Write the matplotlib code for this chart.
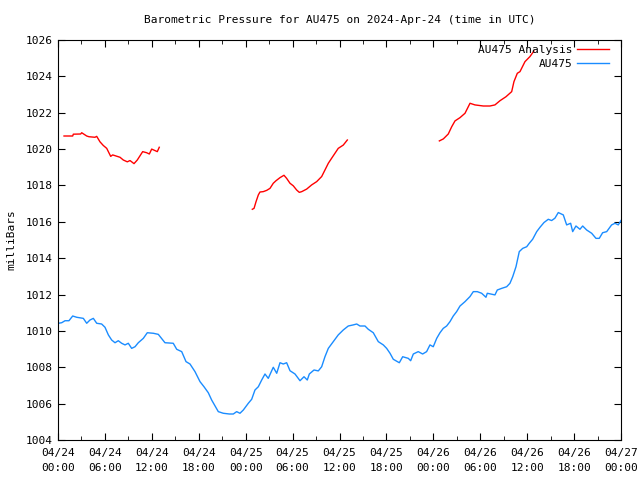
import numpy as np
import pandas as pd
import matplotlib
matplotlib.use("Agg")
import matplotlib.pyplot as plt
import matplotlib.dates as mdates

start = pd.Timestamp("2024-04-24 00:00")

# hours since 04/24 00:00 UTC, pressure in mb
obs_hours = [0.04, 0.47, 0.9, 1.4, 1.88, 2.39, 3.24, 3.67, 4.09, 4.52, 4.95, 5.58, 6.01, 6.44,
             6.86, 7.29, 7.71, 8.14, 8.57, 8.99, 9.42, 9.85, 10.27, 10.91, 11.42, 12.19, 12.83,
             13.68, 14.74, 15.18, 15.82, 16.37, 16.88, 17.52, 18.16, 18.67, 19.22, 19.65, 20.08,
             20.5, 21.14, 21.91, 22.42, 22.85, 23.27, 23.7, 24.34, 24.77, 25.19, 25.62, 26.05,
             26.47, 26.89, 27.53, 27.97, 28.39, 28.81, 29.24, 29.67, 30.31, 30.95, 31.46, 31.88,
             32.14, 32.74, 33.29, 33.72, 34.14, 34.57, 35.2, 35.84, 36.48, 37.12, 37.76, 38.2,
             38.62, 39.26, 39.68, 40.32, 40.96, 41.6, 42.03, 42.46, 42.88, 43.65, 44.08, 44.8,
             45.1, 45.44, 46.07, 46.63, 47.14, 47.57, 47.99, 48.43, 48.85, 49.27, 49.7, 50.13,
             50.55, 50.98, 51.41, 52.05, 52.69, 53.11, 53.62, 54.18, 54.73, 54.9, 55.88, 56.18,
             56.74, 57.38, 57.8, 58.15, 58.57, 58.99, 59.43, 59.94, 60.27, 60.7, 61.22, 61.64,
             62.15, 62.7, 63.13, 63.55, 63.98, 64.62, 65.05, 65.56, 65.82, 66.24, 66.75, 67.1,
             67.61, 68.25, 68.8, 69.22, 69.65, 70.17, 70.8, 71.23, 71.65, 72.0]
obs_mb = [1010.42, 1010.45, 1010.56, 1010.56, 1010.82, 1010.75, 1010.69, 1010.42, 1010.6,
          1010.69, 1010.42, 1010.38, 1010.2, 1009.78, 1009.5, 1009.35, 1009.46, 1009.32,
          1009.23, 1009.32, 1009.04, 1009.13, 1009.35, 1009.59, 1009.9, 1009.87, 1009.81,
          1009.35, 1009.32, 1008.99, 1008.86, 1008.31, 1008.18, 1007.76, 1007.21, 1006.93,
          1006.6, 1006.2, 1005.87, 1005.56, 1005.47, 1005.43, 1005.43, 1005.56, 1005.47,
          1005.65, 1006.02, 1006.24, 1006.75, 1006.93, 1007.3, 1007.63, 1007.39, 1008.0,
          1007.67, 1008.25, 1008.18, 1008.25, 1007.81, 1007.63, 1007.26, 1007.48, 1007.3,
          1007.63, 1007.85, 1007.8, 1008.03, 1008.58, 1009.04, 1009.41, 1009.78, 1010.05,
          1010.27, 1010.33, 1010.38, 1010.27, 1010.27, 1010.09, 1009.9, 1009.41, 1009.23,
          1009.04, 1008.77, 1008.44, 1008.25, 1008.58, 1008.49, 1008.36, 1008.73, 1008.86,
          1008.73, 1008.86, 1009.23, 1009.13, 1009.59, 1009.9, 1010.14, 1010.27, 1010.51,
          1010.82, 1011.06, 1011.37, 1011.61, 1011.89, 1012.16, 1012.16, 1012.07, 1011.85,
          1012.07, 1011.98, 1012.25, 1012.34, 1012.43, 1012.62, 1012.98, 1013.53, 1014.36,
          1014.54, 1014.63, 1014.82, 1015.04, 1015.46, 1015.7, 1015.96, 1016.14, 1016.07,
          1016.2, 1016.51, 1016.38, 1015.83, 1015.92, 1015.46, 1015.77, 1015.59, 1015.77,
          1015.55, 1015.37, 1015.09, 1015.09, 1015.4, 1015.46, 1015.83, 1015.92, 1015.83,
          1016.07]

ana1_hours = [0.77, 1.88, 1.96, 2.9, 3.03, 3.67, 3.96, 4.73, 4.95, 5.37, 5.79, 6.23, 6.74, 6.99,
              7.93, 8.35, 8.86, 9.21, 9.72, 10.14, 10.83, 11.34, 11.68, 11.98, 12.7, 12.95]
ana1_mb = [1020.72, 1020.72, 1020.82, 1020.83, 1020.9, 1020.72, 1020.68, 1020.65, 1020.7,
           1020.4, 1020.2, 1020.04, 1019.6, 1019.68, 1019.55, 1019.4, 1019.3, 1019.37, 1019.2,
           1019.4, 1019.86, 1019.8, 1019.73, 1020.0, 1019.86, 1020.1]
ana2_hours = [24.85, 25.07, 25.32, 25.62, 25.83, 26.25, 26.69, 27.11, 27.53, 27.88, 28.39, 28.9,
              29.24, 29.67, 30.09, 30.52, 30.86, 31.17, 31.8, 32.44, 33.08, 33.72, 34.14, 34.57,
              35.0, 35.42, 35.84, 36.48, 37.0]
ana2_mb = [1016.69, 1016.74, 1017.1, 1017.48, 1017.64, 1017.66, 1017.73, 1017.84, 1018.12,
           1018.26, 1018.43, 1018.56, 1018.39, 1018.12, 1017.98, 1017.75, 1017.62, 1017.66,
           1017.8, 1018.03, 1018.21, 1018.49, 1018.85, 1019.22, 1019.5, 1019.77, 1020.04,
           1020.22, 1020.5]
ana3_hours = [48.77, 49.28, 49.91, 50.35, 50.77, 51.41, 52.05, 52.69, 53.32, 54.39, 55.24, 55.88,
              56.52, 57.29, 58.02, 58.31, 58.74, 59.08, 59.72, 60.36, 60.87]
ana3_mb = [1020.45, 1020.56, 1020.83, 1021.23, 1021.55, 1021.73, 1021.97, 1022.52, 1022.43,
           1022.37, 1022.37, 1022.43, 1022.66, 1022.88, 1023.16, 1023.71, 1024.17, 1024.26,
           1024.81, 1025.09, 1025.4]

# gaps between analysis runs
ana_hours = ana1_hours + [13.0] + ana2_hours + [37.1] + ana3_hours
ana_mb = ana1_mb + [np.nan] + ana2_mb + [np.nan] + ana3_mb

t_obs = start + pd.to_timedelta(obs_hours, unit="h")
t_ana = start + pd.to_timedelta(ana_hours, unit="h")

plt.rcParams['font.family'] = ['DejaVu Sans Mono']
plt.rcParams['font.size'] = 8

fig = plt.figure(figsize=(6.4, 4.8), dpi=100)
ax = fig.add_axes([58/640, 40/480, 563/640, 400/480])

ax.plot(t_ana, ana_mb, color='#ff0000', lw=1, label='AU475 Analysis')
ax.plot(t_obs, obs_mb, color='#1a8cff', lw=1, label='AU475')

ax.set_xlim(start, start + pd.Timedelta(hours=72))
ax.set_ylim(1004, 1026)
ax.set_yticks(np.arange(1004, 1027, 2))
ax.xaxis.set_major_locator(mdates.HourLocator(byhour=[0, 6, 12, 18]))
ax.xaxis.set_minor_locator(mdates.HourLocator(byhour=[3, 9, 15, 21]))
ax.xaxis.set_major_formatter(mdates.DateFormatter('%m/%d\n%H:%M'))
ax.tick_params(which='both', direction='in', top=True, right=True, labelsize=8)
ax.tick_params(which='major', length=5)
ax.tick_params(which='minor', length=3)
ax.tick_params(axis='x', pad=6)
for lbl in ax.get_xticklabels():
    lbl.set_linespacing(1.6)

ax.set_title('Barometric Pressure for AU475 on 2024-Apr-24 (time in UTC)', fontsize=8, pad=12)
ax.set_ylabel('milliBars', fontsize=8, labelpad=7)

ax.legend(loc='upper right', bbox_to_anchor=(0.9867, 0.999), frameon=False,
          markerfirst=False, fontsize=8, handlelength=2.9, handletextpad=0.4,
          labelspacing=0.35, borderaxespad=0)

fig.savefig('out.png', dpi=100)
